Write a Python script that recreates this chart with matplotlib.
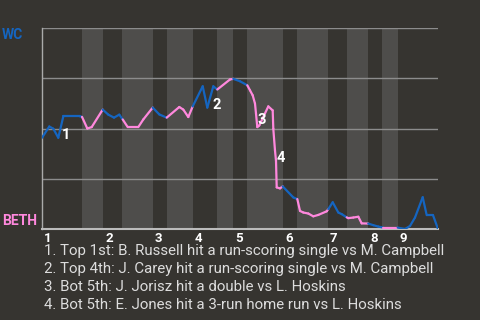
import matplotlib
matplotlib.use("Agg")
import matplotlib.pyplot as plt
import numpy as np
from matplotlib.collections import LineCollection

plt.rcParams['font.family'] = ['Roboto', 'DejaVu Sans']

# game progress (0-396) and WC win probability (%)
progress = [0, 7.3, 11.3, 16.3, 21.3, 38, 40,
            45.3, 49.7, 60.7,
            66.3, 72, 77.3, 80.7,
            85.7, 96.3, 101.3, 110.7,
            117.3, 124.7,
            137.3, 141.3, 146.3, 150.7,
            160.7, 165.3, 171.3, 175.3,
            188, 191.3,
            198, 205.3,
            208, 210.7, 213, 214, 215.3, 217.3, 226.3, 230.7, 231.3, 233, 234, 234.7, 238, 240.7,
            251.3, 255.3,
            258, 261.3, 266.3, 271.3, 276.3, 284.7, 286.3,
            290.7, 296.3, 299.7, 304.7, 306.3,
            311.3, 316.3, 319.7, 326.3,
            331.3, 336.3, 341.3,
            355.7,
            363, 368, 373, 380.7, 384.7, 391, 396]
wc_prob = [45.4, 51.0, 49.9, 45.4, 56.0, 56.0, 55.8,
           50.0, 50.7, 59.4,
           56.9, 55.4, 56.9, 54.5,
           50.7, 50.7, 54.5, 60.4,
           57.0, 55.4,
           60.7, 59.4, 55.7, 61.0,
           71.0, 60.4, 71.0, 69.4,
           74.4, 74.7,
           73.5, 71.5,
           69.0, 66.5, 62.4, 57.4, 50.7, 51.5, 61.0, 59.0, 49.9, 39.0, 34.0, 20.7, 20.2, 21.2,
           15.7, 14.9,
           9.0, 8.2, 7.7, 6.3, 7.0, 8.8, 9.9,
           13.3, 8.2, 7.4, 5.8, 5.4,
           5.7, 6.1, 2.8, 2.7,
           1.9, 1.2, 0.7,
           0.7,
           0.0, 1.5, 5.7, 15.8, 6.9, 6.9, 0.0]

# half-inning boundaries (top 1st ... top 9th)
half_edges = [0, 40, 61, 80, 111, 125, 151, 175, 191, 205, 241, 255, 286, 305, 326, 340, 356, 396]
inning_labels = ['1', '2', '3', '4', '5', '6', '7', '8', '9']

# key plays: index into the series, label, nudge in pixels
play_idx = [3, 25, 36, 42]
play_labels = ['1', '2', '3', '4']
play_nudge = [(4, -1), (5, -1), (0, 3), (1, -1)]
play_text = [
    "1. Top 1st: B. Russell hit a run-scoring single vs M. Campbell",
    "2. Top 4th: J. Carey hit a run-scoring single vs M. Campbell",
    "3. Bot 5th: J. Jorisz hit a double vs L. Hoskins",
    "4. Bot 5th: E. Jones hit a 3-run home run vs L. Hoskins",
]

BG = '#363430'
BAND = '#4e4d4b'
BLUE = '#1565c0'
PINK = '#ff88dd'

fig = plt.figure(figsize=(4.8, 3.2), dpi=100, facecolor=BG)
ax = fig.add_axes([42 / 480, 1 - 229 / 320, 396 / 480, 201 / 320])
ax.set_facecolor(BG)
ax.set_xlim(0, 396)
ax.set_ylim(0, 100)

# shaded bottom halves
for i in range(1, len(half_edges) - 1, 2):
    ax.axvspan(half_edges[i], half_edges[i + 1], color=BAND, lw=0, zorder=0)

for g in [25, 50, 75, 100]:
    ax.axhline(g, color='#8c8c8c', lw=1, zorder=1)

# win probability line, coloured by team at bat
x = np.array(progress)
y = np.array(wc_prob)
segs = [[(x[i], y[i]), (x[i + 1], y[i + 1])] for i in range(len(x) - 1)]
mids = (x[:-1] + x[1:]) / 2
half = np.searchsorted(half_edges, mids) - 1
cols = [BLUE if h % 2 == 0 else PINK for h in half]
ax.add_collection(LineCollection(segs, colors=cols, linewidths=1.6, zorder=3,
                                 capstyle='round', joinstyle='round'))

for idx, lab, nd in zip(play_idx, play_labels, play_nudge):
    ax.annotate(lab, (x[idx], y[idx]), xytext=nd, textcoords='offset pixels',
                color='white', fontsize=10.5, fontweight='bold', ha='left',
                va='baseline', zorder=4)

for spine in ['top', 'right']:
    ax.spines[spine].set_visible(False)
ax.spines['left'].set_color('#aaaaaa')
ax.spines['left'].set_linewidth(1)
ax.spines['bottom'].set_color('#bbbbbb')
ax.spines['bottom'].set_linewidth(1.5)
ax.set_xticks([])
ax.set_yticks([])

# inning labels
inning_starts = [half_edges[i] for i in range(0, len(half_edges) - 1, 2)]
for xs, lab in zip(inning_starts, inning_labels):
    ax.text(xs + 2, -6.3, lab, color='white', fontsize=9.5, fontweight='bold',
            ha='left', va='baseline')

fig.text(2 / 480, 1 - 39.3 / 320, 'WC', color=BLUE, fontsize=10, fontweight='bold',
         ha='left', va='baseline')
fig.text(2 / 480, 1 - 225 / 320, 'BETH', color=PINK, fontsize=10, fontweight='bold',
         ha='left', va='baseline')

for i, t in enumerate(play_text):
    fig.text(44 / 480, 1 - (255.5 + 17.8 * i) / 320, t, color='#dddddd', fontsize=10.8,
             ha='left', va='baseline')

fig.savefig('out.png', dpi=100, facecolor=BG)
